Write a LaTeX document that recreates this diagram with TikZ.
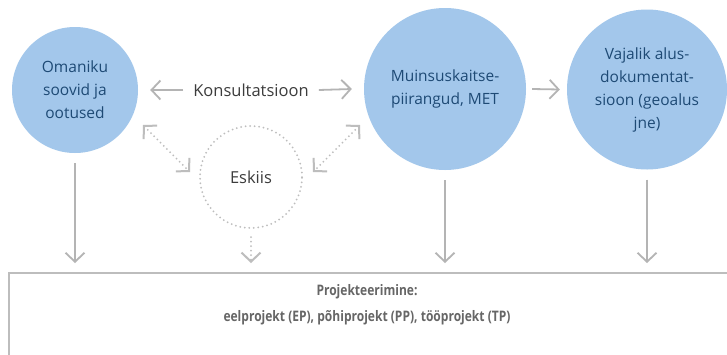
\documentclass[tikz,border=0pt]{standalone}
\usepackage{fontspec}
\setmainfont{Open Sans}
\newfontfamily\condfont[FakeStretch=0.83,UprightFont=* Bold,BoldFont=* Bold]{Open Sans}
\usetikzlibrary{arrows.meta,calc}
\definecolor{cblue}{HTML}{A3C7EB}
\definecolor{cnavy}{HTML}{1E4A75}
\definecolor{ggray}{HTML}{B4B4B4}
\definecolor{egray}{HTML}{BDBDBD}
\definecolor{tdark}{HTML}{3C3C3C}
\definecolor{tbox}{HTML}{666666}
\tikzset{
  circ/.style={circle, fill=cblue, text=cnavy, align=center, inner sep=0pt,
    font=\fontsize{15.5}{23}\selectfont},
  eskstyle/.style={circle, draw=egray, line width=2pt, dash pattern=on 0pt off 4.5pt,
    line cap=round, text=tdark, inner sep=0pt, font=\fontsize{16.5}{20}\selectfont},
  plain/.style={text=tdark, inner sep=0pt, font=\fontsize{16.5}{20}\selectfont},
  tip/.tip={Straight Barb[length=9pt,width=19pt]},
  garrow/.style={draw=ggray, line width=1.8pt, -tip},
  darrow/.style={draw=egray, line width=2pt, dash pattern=on 0pt off 4.5pt, line cap=round},
  boxstyle/.style={draw=egray, line width=2pt, fill=white, inner sep=0pt},
  btext/.style={text=tbox, align=center, inner sep=0pt,
    font=\condfont\fontsize{14.5}{26}\selectfont},
}
\begin{document}
\begin{tikzpicture}[x=1pt,y=-1pt]
\clip (0,0) rectangle (727,354);
\fill[white] (0,0) rectangle (727,354);
\node[circ, minimum size=126pt] (om) at (75,90) {Omaniku\\soovid ja\\ootused};
\node[circ, minimum size=162pt] (mu) at (445,89) {Muinsuskaitse-\\piirangud, MET};
\node[circ, minimum size=160pt] (va) at (647,89.5) {Vajalik alus-\\dokumentat-\\sioon (geoalus\\jne)};
\node[eskstyle, minimum size=102pt] (es) at (251,177) {Eskiis};
\node[plain] (ko) at (251,90) {Konsultatsioon};
\node[boxstyle, anchor=north west, minimum width=740pt, minimum height=100pt] (pr) at (8,272) {};
\node[btext] (pt) at (367,305) {Projekteerimine:\\eelprojekt (EP), põhiprojekt (PP), tööprojekt (TP)};
% consultation arrows
\draw[garrow] ([xshift=-10pt]ko.west) -- ([xshift=12pt]om.east);
\draw[garrow] ([xshift=10pt]ko.east) -- ([xshift=-12pt]mu.west);
\draw[garrow] ([xshift=6pt]mu.east) -- ([xshift=-7pt]va.west);
% vertical arrows
\draw[garrow, shorten >=9pt] ([yshift=-10pt]om.south) -- (om.south |- pr.north);
\draw[garrow, shorten >=9pt] ([yshift=-10pt]mu.south) -- (mu.south |- pr.north);
\draw[garrow, shorten >=9pt] ([yshift=-10pt]va.south) -- (va.south |- pr.north);
% dotted arrows
\coordinate (d1) at (143,125);
\coordinate (d2) at (190,172);
\coordinate (d3) at (360,125);
\coordinate (d4) at (313,172);
\draw[darrow, tip-tip] (d1) -- (d2);
\draw[darrow, tip-tip] (d3) -- (d4);
\draw[darrow, -tip, shorten >=9pt] ([yshift=-8pt]es.south) -- (es.south |- pr.north);
\end{tikzpicture}
\end{document}
